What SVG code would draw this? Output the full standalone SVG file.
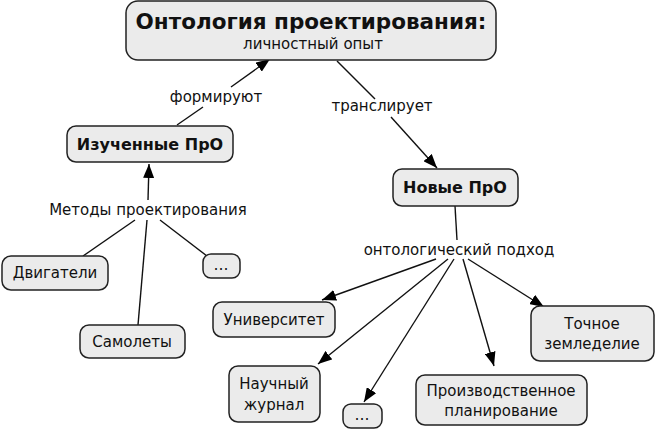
<svg xmlns="http://www.w3.org/2000/svg" width="658" height="433" viewBox="0 0 658 433">
<defs>
<style>
.box{fill:#ebebeb;stroke:#222;stroke-width:1.5}
.t{font-family:"DejaVu Sans",Verdana,sans-serif;font-size:15px;fill:#111;text-anchor:middle}
.b{font-weight:bold;font-size:16px}
.ln{stroke:#111;stroke-width:1.4;fill:none}
</style>
<marker id="ah" viewBox="0 0 14 11" refX="14" refY="5.5" markerWidth="14" markerHeight="11" markerUnits="userSpaceOnUse" orient="auto">
<path d="M0,0 L14,5.5 L0,11 Z" fill="#000"/>
</marker>
</defs>
<rect width="658" height="433" fill="#fff"/>
<g id="connectors">
<line class="ln" x1="177" y1="125" x2="203" y2="107"/>
<line class="ln" x1="231" y1="87" x2="270" y2="59" marker-end="url(#ah)"/>
<line class="ln" x1="337" y1="61" x2="375" y2="99"/>
<line class="ln" x1="391" y1="117" x2="437" y2="168" marker-end="url(#ah)"/>
<line class="ln" x1="148" y1="200" x2="149" y2="164" marker-end="url(#ah)"/>
<line class="ln" x1="135" y1="220" x2="83" y2="256"/>
<line class="ln" x1="147" y1="220" x2="138" y2="325"/>
<line class="ln" x1="160" y1="220" x2="207" y2="256"/>
<line class="ln" x1="455" y1="206" x2="457" y2="240"/>
<line class="ln" x1="436" y1="259" x2="322" y2="300" marker-end="url(#ah)"/>
<line class="ln" x1="448" y1="259" x2="318" y2="364" marker-end="url(#ah)"/>
<line class="ln" x1="454" y1="259" x2="364" y2="402" marker-end="url(#ah)"/>
<line class="ln" x1="463" y1="259" x2="494" y2="366" marker-end="url(#ah)"/>
<line class="ln" x1="468" y1="259" x2="544" y2="307" marker-end="url(#ah)"/>
</g>
<g id="labels">
<text class="t" x="216" y="102">формируют</text>
<text class="t" x="382" y="111">транслирует</text>
<text class="t" x="148" y="215">Методы проектирования</text>
<text class="t" x="459" y="255">онтологический подход</text>
</g>
<g id="n-top">
<rect class="box" x="126" y="1" width="370" height="59" rx="12"/>
<text class="t b" x="311" y="29" style="font-size:21.5px">Онтология проектирования:</text>
<text class="t" x="313" y="49">личностный опыт</text>
</g>
<g id="n-izuch">
<rect class="box" x="67" y="126" width="166" height="36" rx="9"/>
<text class="t b" x="150" y="150">Изученные ПрО</text>
</g>
<g id="n-novye">
<rect class="box" x="393" y="169" width="125" height="37" rx="9"/>
<text class="t b" x="455" y="193">Новые ПрО</text>
</g>
<g id="n-dvig">
<rect class="box" x="2" y="256" width="106" height="34" rx="9"/>
<text class="t" x="55" y="278">Двигатели</text>
</g>
<g id="n-dots1">
<rect class="box" x="203" y="254" width="37" height="24" rx="8"/>
<text class="t" x="221" y="270">…</text>
</g>
<g id="n-samol">
<rect class="box" x="80" y="325" width="105" height="33" rx="9"/>
<text class="t" x="132" y="347">Самолеты</text>
</g>
<g id="n-univ">
<rect class="box" x="213" y="302" width="122" height="35" rx="9"/>
<text class="t" x="274" y="325">Университет</text>
</g>
<g id="n-zhurnal">
<rect class="box" x="229" y="366" width="91" height="56" rx="9"/>
<text class="t" x="274" y="389">Научный</text>
<text class="t" x="274" y="410">журнал</text>
</g>
<g id="n-dots2">
<rect class="box" x="343" y="404" width="39" height="24" rx="8"/>
<text class="t" x="362" y="420">…</text>
</g>
<g id="n-proizv">
<rect class="box" x="416" y="375" width="171" height="50" rx="9"/>
<text class="t" x="501" y="396">Производственное</text>
<text class="t" x="501" y="416">планирование</text>
</g>
<g id="n-tochnoe">
<rect class="box" x="531" y="306" width="123" height="55" rx="9"/>
<text class="t" x="592" y="329">Точное</text>
<text class="t" x="592" y="349">земледелие</text>
</g>
</svg>
